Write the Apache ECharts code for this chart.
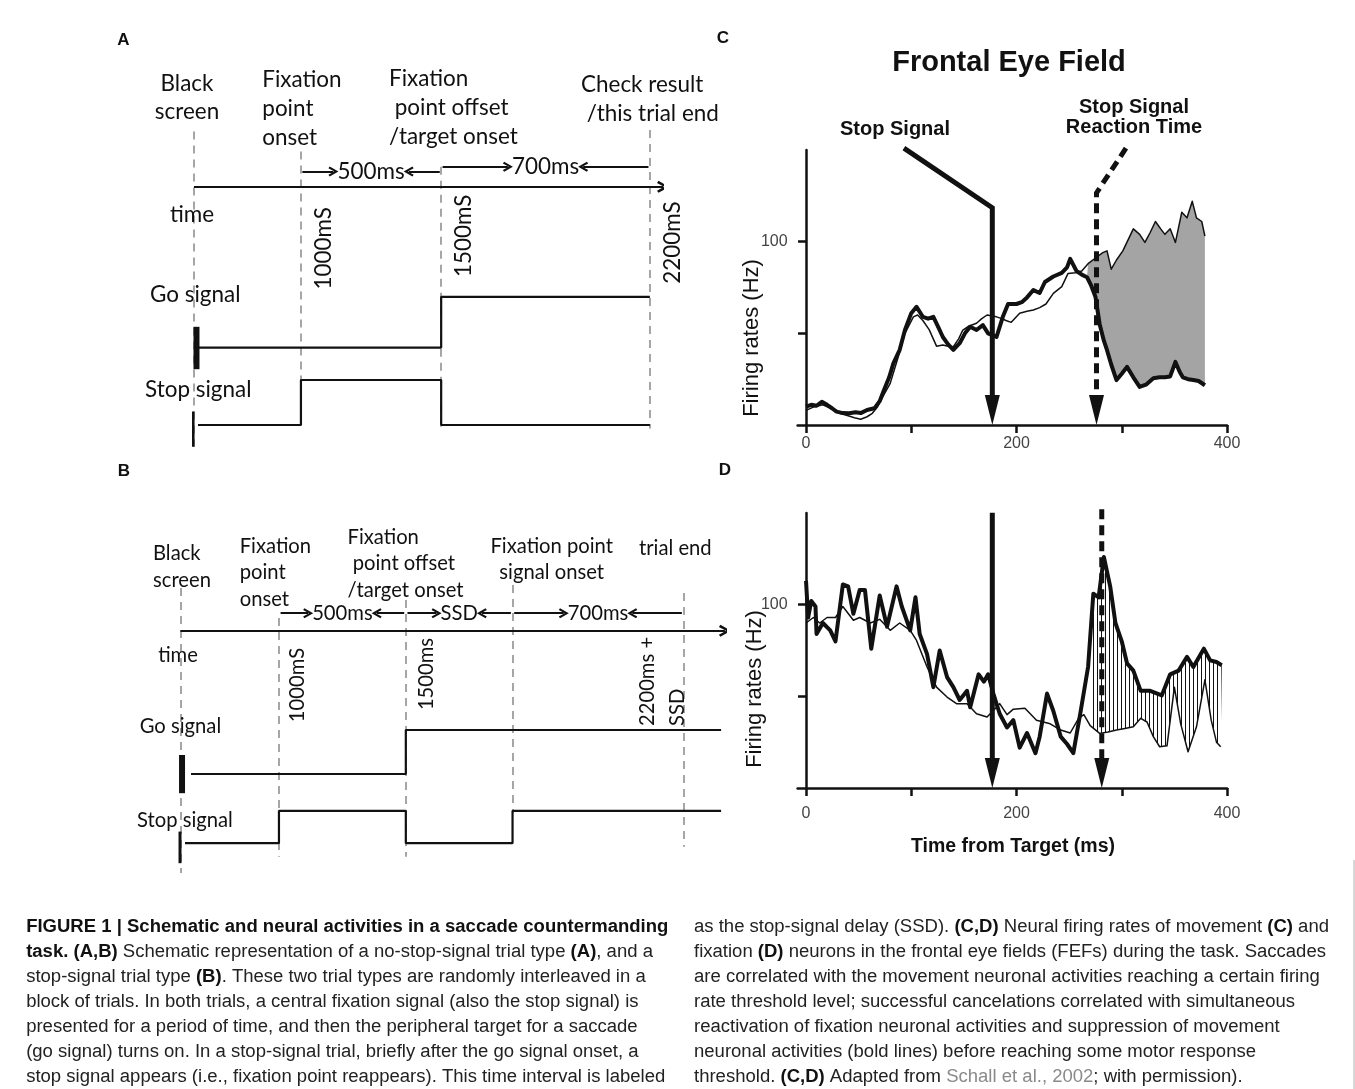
<!DOCTYPE html>
<html>
<head>
<meta charset="utf-8">
<title>Figure 1</title>
<script src="https://cdn.jsdelivr.net/npm/echarts@6/dist/echarts.min.js"></script>
<style>
  html, body { margin: 0; padding: 0; background: #fff; }
  #chart { width: 1355px; height: 1089px; }
</style>
</head>
<body>
<div id="chart"></div>
<script>
// ---------- C: movement neuron (ms from target, Hz) ----------
const cThinT = [0, 8, 16, 24, 32, 40, 46, 52, 58, 63, 68, 73, 80, 87, 94, 102, 106, 111, 117, 124, 130, 135, 140, 145, 149, 155, 162, 167, 172, 177, 181, 186, 190, 195, 203, 210, 216, 222, 228, 235, 243, 249, 256, 262, 268, 276, 282, 286, 290, 295, 301, 306, 311, 317, 322, 327, 332, 337, 341, 346, 351, 357, 362, 367, 371, 376, 379];
const cThinV = [8, 10, 11, 9, 6.4, 5, 4, 3.1, 4.5, 6.4, 10, 15.5, 22.7, 36, 50, 59, 60, 57, 52, 43, 43.6, 43, 42.7, 47, 51.8, 54, 55.5, 58, 60, 59.5, 59, 58, 57, 56, 61, 62, 62.7, 64, 66, 71.8, 75.5, 82.7, 83, 84, 88, 91.5, 94, 95, 85, 90, 95, 101, 107, 104, 99.6, 105, 111, 107, 104, 107, 99.6, 116, 113, 122, 113, 111, 103];
const cThickT = [0, 5, 10, 15, 20, 25, 29, 35, 41, 47, 52, 58, 65, 70, 74, 79, 83, 89, 94, 100, 105, 111, 116, 121, 126, 130, 135, 140, 146, 151, 156, 162, 168, 173, 177, 181, 187, 192, 200, 205, 210, 216, 222, 227, 235, 243, 248, 251, 257, 262, 267, 271, 275, 279, 283, 286, 290, 295, 300, 305, 311, 317, 323, 330, 336, 341, 346, 351, 355, 358, 363, 368, 373, 379];
const cThickV = [10, 11, 10.5, 12.7, 11, 9, 7.3, 6.5, 6.4, 7, 6.5, 8.2, 9.1, 13, 19, 26, 33.6, 41, 51.8, 61, 64.5, 59, 58, 59, 53, 48, 44, 41, 44.6, 50, 53.6, 51.8, 54.5, 50, 49, 48, 59, 66, 66, 67, 69.6, 73.6, 72, 78, 81, 83, 86, 90.6, 84, 82, 80.6, 76, 70, 55, 46, 40.8, 33, 24.5, 28, 31.7, 26, 20.8, 22, 25.5, 26, 26, 26.5, 34.4, 29, 26, 25, 24.5, 24, 21.7];

// ---------- D: fixation neuron ----------
const dThinT = [0, 7, 13, 20, 28, 35, 45, 51, 61, 70, 80, 89, 99, 105, 115, 124, 134, 143, 153, 162, 172, 181, 184, 191, 197, 208, 219, 232, 242, 251, 259, 264, 270, 279, 287, 295, 303, 311, 318, 324, 330, 336, 343, 350, 356, 363, 371, 379, 385, 390, 394];
const dThinV = [90, 93, 90, 93, 93, 99, 91.5, 93, 90, 92, 86, 90, 86, 80.5, 66, 55, 49.6, 46, 46, 40.5, 38.7, 44, 46, 40, 43, 43.5, 37, 35, 31.6, 30, 38, 40, 34, 29.8, 30.5, 31.6, 32.5, 33.4, 38, 36, 28, 22.5, 23, 55, 35, 19.8, 33.4, 59, 37, 25, 22.5];
const dThickT = [0, 2, 5, 9, 10, 16, 23, 28, 35, 40, 45, 51, 56, 62, 70, 77, 86, 91, 99, 104, 108, 115, 121, 127, 134, 140, 146, 153, 156, 164, 169, 173, 178, 184, 191, 197, 203, 210, 218, 222, 229, 235, 242, 248, 254, 261, 268, 273, 278, 283, 289, 294, 300, 305, 311, 318, 327, 338, 346, 354, 362, 368, 378, 384, 390, 395];
const dThickV = [113, 93, 102, 99, 84, 90, 86, 80, 111, 110, 95, 108, 108, 76, 105, 88, 110, 99, 86, 104, 84, 73, 55, 75, 60.5, 55, 48, 53, 44, 62, 58, 62, 51.5, 40.5, 33, 37, 22, 30, 19, 28, 51.5, 42, 28, 24, 19, 42, 66, 106, 104, 126, 110, 90, 80, 68, 64, 53, 53, 50.5, 62, 64, 71.5, 66, 76, 69.6, 68.7, 67];

const stopSignalMs = 177;
const ssrtMsC = 276;
const ssrtMsD = 281;
const xTickValues = [0, 100, 200, 300, 400];
const xLabelValues = [0, 200, 400];
const yTickValues = [50, 100];
const yLabelValues = [100];

// ---------- A / B schematics: event positions in % of the time arrow ----------
const eventPosA = [0, 22.8, 52.7, 97.2];
const goLevelA = [0, 0, 1];
const stopLevelA = [0, 1, 0];
const intervalLabelsA = ['500ms', '700ms'];
const timeLabelsA = ['1000mS', '1500mS', '2200mS'];

const eventPosB = [0, 18.1, 41.4, 61.0, 92.4];
const goLevelB = [0, 0, 1, 1];
const stopLevelB = [0, 1, 0, 1];
const intervalLabelsB = ['500ms', 'SSD', '700ms'];
const timeLabelsB = ['1000mS', '1500ms', '2200ms +\nSSD'];

// ---------- layout (grid units, not data) ----------
const layoutA = {
  timeRow: 68.3, goStart: 0.85, stopStart: 0.85, end: 97.2,
  goBase: 28.1, goAmp: 12.7, stopBase: 8.75, stopAmp: 11.25,
  goBarX: 0.53, goBar: [22.7, 33.3], stopBarX: -0.2, stopBar: [3.3, 12.1],
  dashTop: [82.1, 77.1, 73.3, 82.5], dashBottom: [3.3, 8.3, 8.3, 7.9],
  intervalFrom: 1, intervalRows: [72.1, 73.3]
};
const layoutB = {
  timeRow: 67.3, goStart: 1.95, stopStart: 0.85, end: 99.3,
  goBase: 31.5, goAmp: 11, stopBase: 14.2, stopAmp: 8.1,
  goBarX: 0.3, goBar: [26.7, 36.25], stopBarX: -0.07, stopBar: [9.2, 17.1],
  dashTop: [78, 70.5, 75, 78.75, 76.75], dashBottom: [6.75, 10.8, 10.8, 21.75, 13.3],
  intervalFrom: 1, intervalRows: [71.7, 71.7, 71.7]
};
const arrowsC = [
  { pts: [[93, 151], [stopSignalMs, 118.5], [stopSignalMs, 0]], dashed: false },
  { pts: [[304, 151], [ssrtMsC, 126.6], [ssrtMsC, 0]], dashed: true }
];
const arrowsD = [
  { pts: [[stopSignalMs, 150.2], [stopSignalMs, 0]], dashed: false },
  { pts: [[ssrtMsD, 152], [ssrtMsD, 0]], dashed: true }
];

const captionLeft = [
  '**FIGURE 1 | Schematic and neural activities in a saccade countermanding**',
  '**task. (A,B)** Schematic representation of a no-stop-signal trial type **(A)**, and a',
  'stop-signal trial type **(B)**. These two trial types are randomly interleaved in a',
  'block of trials. In both trials, a central fixation signal (also the stop signal) is',
  'presented for a period of time, and then the peripheral target for a saccade',
  '(go signal) turns on. In a stop-signal trial, briefly after the go signal onset, a',
  'stop signal appears (i.e., fixation point reappears). This time interval is labeled'
];
const captionRight = [
  'as the stop-signal delay (SSD). **(C,D)** Neural firing rates of movement **(C)** and',
  'fixation **(D)** neurons in the frontal eye fields (FEFs) during the task. Saccades',
  'are correlated with the movement neuronal activities reaching a certain firing',
  'rate threshold level; successful cancelations correlated with simultaneous',
  'reactivation of fixation neuronal activities and suppression of movement',
  'neuronal activities (bold lines) before reaching some motor response',
  'threshold. **(C,D)** Adapted from ##Schall et al., 2002##; with permission).'
];

const SANS = '"Liberation Sans", Arial, sans-serif';
const SCHEM = 'Lato, "Open Sans", sans-serif';
const INK = '#111';

const mctx = document.createElement('canvas').getContext('2d');
function textW(str, size, family, weight) {
  mctx.font = (weight || 'normal') + ' ' + size + 'px ' + family;
  return mctx.measureText(str).width;
}
const fsA = 24 * 122.5 / textW('Check result', 24, SCHEM);
const fsB = 24 * 122.6 / textW('Fixation point', 24, SCHEM);

const zip = (t, v) => t.map((x, i) => [x, v[i]]);

function stepPoints(pos, levels, start, end, base, amp) {
  const pts = [[start, base + levels[0] * amp]];
  for (let i = 1; i < levels.length; i++) {
    if (levels[i] !== levels[i - 1]) {
      pts.push([pos[i], base + levels[i - 1] * amp]);
      pts.push([pos[i], base + levels[i] * amp]);
    }
  }
  pts.push([end, base + levels[levels.length - 1] * amp]);
  return pts;
}

const CHEVRON = 'path://M0,14 L10,0 L20,14 L16.5,16 L10,6.5 L3.5,16 Z';

function intervalArrows(pos, labels, L, size, ppu) {
  const out = [];
  labels.forEach((lab, k) => {
    const i = L.intervalFrom + k;
    const c = (pos[i] + pos[i + 1]) / 2;
    const w = Math.max.apply(null, lab.split('\n').map(s => textW(s, size, SCHEM)));
    const g = (w / 2 + 4) / ppu;
    const row = L.intervalRows[k];
    out.push({ coords: [[pos[i] + 0.3, row], [c - g, row]] });
    out.push({ coords: [[pos[i + 1] - 0.3, row], [c + g, row]] });
  });
  return out;
}

function schematicSeries(gi, pos, go, stop, L, labels, size, ppu) {
  const ax = { xAxisIndex: gi, yAxisIndex: gi };
  const line = (data, width) => Object.assign({
    type: 'line', data, symbol: 'none', silent: true, clip: false, z: 3,
    lineStyle: { width, color: INK, cap: 'butt' }
  }, ax);
  return [
    Object.assign({
      type: 'lines', coordinateSystem: 'cartesian2d', silent: true, z: 1, symbol: 'none',
      data: pos.map((p, i) => ({ coords: [[p, L.dashTop[i]], [p, L.dashBottom[i]]] })),
      lineStyle: { color: '#a6a6a6', width: 2, type: [8, 6], opacity: 1 }
    }, ax),
    line(stepPoints(pos, go, L.goStart, L.end, L.goBase, L.goAmp), 2.2),
    line(stepPoints(pos, stop, L.stopStart, L.end, L.stopBase, L.stopAmp), 2.2),
    line([[L.goBarX, L.goBar[0]], [L.goBarX, L.goBar[1]]], 6),
    line([[L.stopBarX, L.stopBar[0]], [L.stopBarX, L.stopBar[1]]], 3),
    Object.assign({
      type: 'lines', coordinateSystem: 'cartesian2d', silent: true, z: 3,
      symbol: ['none', CHEVRON], symbolSize: 12,
      data: [{ coords: [[0, L.timeRow], [100, L.timeRow]] }],
      lineStyle: { color: INK, width: 2, opacity: 1 }
    }, ax),
    Object.assign({
      type: 'lines', coordinateSystem: 'cartesian2d', silent: true, z: 3,
      symbol: ['none', CHEVRON], symbolSize: 10,
      data: intervalArrows(pos, labels, L, size, ppu),
      lineStyle: { color: INK, width: 2, opacity: 1 }
    }, ax)
  ];
}

function firingAxes(gi, labelMargin) {
  const ls = { color: INK, width: 2.5 };
  return {
    x: {
      gridIndex: gi, type: 'value', min: -8, max: 400,
      axisLine: { show: true, onZero: false, lineStyle: ls },
      axisTick: { show: true, customValues: xTickValues, length: 8, lineStyle: ls },
      axisLabel: { customValues: xLabelValues, margin: labelMargin, fontSize: 16, color: '#444', fontFamily: SANS },
      splitLine: { show: false }
    },
    y: {
      gridIndex: gi, type: 'value', min: 0, max: 150,
      axisLine: { show: true, onZero: true, lineStyle: ls },
      axisTick: { show: true, customValues: yTickValues, length: 8, lineStyle: ls },
      axisLabel: { customValues: yLabelValues, margin: 10, fontSize: 16, color: '#444', fontFamily: SANS },
      splitLine: { show: false }
    }
  };
}

function drawArrow(a, api) {
  const pts = a.pts.map(p => api.coord(p));
  const tip = pts[pts.length - 1];
  const headH = 30, headW = 15;
  const shaft = pts.slice(0, -1).concat([[tip[0], tip[1] - headH * 0.6]]);
  return {
    type: 'group',
    children: [
      { type: 'polyline', shape: { points: shaft },
        style: { stroke: INK, lineWidth: 5, fill: null, lineDash: a.dashed ? [10, 6] : null } },
      { type: 'polygon', shape: { points: [[tip[0] - headW / 2, tip[1] - headH], [tip[0] + headW / 2, tip[1] - headH], [tip[0], tip[1]]] },
        style: { fill: INK } }
    ]
  };
}

function bandSeries(gi, topT, topV, botT, botV, t0, t1, fill) {
  const inRange = p => p[0] >= t0 && p[0] <= t1;
  const poly = zip(topT, topV).filter(inRange).concat(zip(botT, botV).filter(inRange).reverse());
  return {
    type: 'custom', coordinateSystem: 'cartesian2d', xAxisIndex: gi, yAxisIndex: gi, silent: true, z: 1,
    data: [[t0, 0]],
    renderItem: (params, api) => ({ type: 'polygon', shape: { points: poly.map(p => api.coord(p)) }, style: { fill } })
  };
}

function firingSeries(gi, thinT, thinV, thickT, thickV, arrows) {
  return [
    { type: 'line', xAxisIndex: gi, yAxisIndex: gi, data: zip(thinT, thinV), symbol: 'none', silent: true, z: 2,
      lineStyle: { color: INK, width: 1.5, join: 'round' } },
    { type: 'line', xAxisIndex: gi, yAxisIndex: gi, data: zip(thickT, thickV), symbol: 'none', silent: true, z: 2,
      lineStyle: { color: INK, width: 4, join: 'round' } },
    { type: 'custom', coordinateSystem: 'cartesian2d', xAxisIndex: gi, yAxisIndex: gi, silent: true, z: 4, clip: false,
      data: arrows.map((a, i) => [a.pts[a.pts.length - 1][0], 0, i]),
      renderItem: (params, api) => drawArrow(arrows[params.dataIndex], api) }
  ];
}

// vertical hatch for panel D
const hatch = document.createElement('canvas');
hatch.width = 4; hatch.height = 4;
const hctx = hatch.getContext('2d');
hctx.fillStyle = '#111';
hctx.fillRect(1, 0, 1, 4);

const gridA = { left: 194, top: 60, width: 469, height: 400 };
const gridB = { left: 180.4, top: 500, width: 544.5, height: 400 };
const axC = firingAxes(2, 11);
const axD = firingAxes(3, 18);
const hiddenX = gi => ({ gridIndex: gi, type: 'value', min: 0, max: 100, show: false });
const hiddenY = gi => ({ gridIndex: gi, type: 'value', min: 0, max: 100, show: false });

const chart = echarts.init(document.getElementById('chart'));
chart.setOption({
  animation: false,
  backgroundColor: '#fff',
  grid: [
    gridA, gridB,
    { left: 797.6, top: 150, width: 429.4, height: 275 },
    { left: 797.6, top: 513, width: 429.4, height: 275 }
  ],
  xAxis: [hiddenX(0), hiddenX(1), axC.x, axD.x],
  yAxis: [hiddenY(0), hiddenY(1), axC.y, axD.y],
  series: [].concat(
    schematicSeries(0, eventPosA, goLevelA, stopLevelA, layoutA, intervalLabelsA, fsA, gridA.width / 100),
    schematicSeries(1, eventPosB, goLevelB, stopLevelB, layoutB, intervalLabelsB, fsB, gridB.width / 100),
    [bandSeries(2, cThinT, cThinV, cThickT, cThickV, 266, 380, '#a4a4a4')],
    firingSeries(2, cThinT, cThinV, cThickT, cThickV, arrowsC),
    [bandSeries(3, dThickT, dThickV, dThinT, dThinV, 270, 395, { image: hatch, repeat: 'repeat' })],
    firingSeries(3, dThinT, dThinV, dThickT, dThickV, arrowsD)
  )
});

// ---------- text ----------
const toPx = (gi, x, y) => chart.convertToPixel({ xAxisIndex: gi, yAxisIndex: gi }, [x, y]);

function txt(x, y, text, o) {
  o = o || {};
  return {
    type: 'text', x, y, rotation: o.rot || 0, scaleX: o.sx || 1, silent: true, z: 10,
    style: {
      text, fill: o.color || INK, fontSize: o.size, fontFamily: o.font || SANS,
      fontWeight: o.weight || 'normal', align: o.align || 'left', verticalAlign: o.valign || 'middle',
      lineHeight: o.lh, rich: o.rich
    }
  };
}

const els = [];
// panel letters
[['A', 123.4, 40], ['B', 123.8, 471.7], ['C', 723, 38], ['D', 725, 470]].forEach(l =>
  els.push(txt(l[1], l[2], l[0], { size: 17, weight: 'bold', align: 'center' })));

// panel A
const sA = { size: fsA, font: SCHEM };
els.push(txt(187, 97.5, 'Black\nscreen', Object.assign({ align: 'center', lh: 28.4 }, sA)));
els.push(txt(262.3, 109.2, 'Fixation\npoint\nonset', Object.assign({ lh: 29 }, sA)));
els.push(txt(389, 107.5, 'Fixation\n point offset\n/target onset', Object.assign({ lh: 29.2 }, sA)));
els.push(txt(581, 99.2, 'Check result\n /this trial end', Object.assign({ lh: 28.3 }, sA)));
els.push(txt(192, 215, 'time', Object.assign({ align: 'center' }, sA)));
els.push(txt(150, 295, 'Go signal', sA));
els.push(txt(145, 390, 'Stop signal', sA));
const timeYA = [248.3, 235.8, 242.5];
timeLabelsA.forEach((t, k) => {
  const p = toPx(0, eventPosA[k + 1], 0);
  els.push(txt(p[0] + 22.5, timeYA[k], t, Object.assign({ rot: Math.PI / 2, align: 'center' }, sA)));
});
intervalLabelsA.forEach((t, k) => {
  const i = layoutA.intervalFrom + k;
  const p = toPx(0, (eventPosA[i] + eventPosA[i + 1]) / 2, layoutA.intervalRows[k]);
  els.push(txt(p[0], p[1], t, Object.assign({ align: 'center' }, sA)));
});

// panel B
const sB = { size: fsB, font: SCHEM };
els.push(txt(153, 567, 'Black\nscreen', Object.assign({ lh: 27.4 }, sB)));
els.push(txt(239.7, 572.7, 'Fixation\npoint\nonset', Object.assign({ lh: 26.7 }, sB)));
els.push(txt(347.5, 563.7, 'Fixation\n point offset\n/target onset', Object.assign({ lh: 26.4 }, sB)));
els.push(txt(551.7, 559.7, 'Fixation point\nsignal onset', Object.assign({ align: 'center', lh: 26 }, sB)));
els.push(txt(639, 548.3, 'trial end', sB));
els.push(txt(178, 655, 'time', Object.assign({ align: 'center' }, sB)));
els.push(txt(139.7, 726.7, 'Go signal', sB));
els.push(txt(137, 820.7, 'Stop signal', sB));
const timeEventB = [1, 2, 4];
const timeOffB = [[18.6, 685, 'center'], [20.5, 674, 'center'], [-21.1, 726, 'left']];
timeLabelsB.forEach((t, k) => {
  const p = toPx(1, eventPosB[timeEventB[k]], 0);
  const o = timeOffB[k];
  els.push(txt(p[0] + o[0], o[1], t, Object.assign({ rot: Math.PI / 2, align: o[2], lh: 30 }, sB)));
});
intervalLabelsB.forEach((t, k) => {
  const i = layoutB.intervalFrom + k;
  const p = toPx(1, (eventPosB[i] + eventPosB[i + 1]) / 2, layoutB.intervalRows[k]);
  els.push(txt(p[0], p[1], t, Object.assign({ align: 'center' }, sB)));
});

// panels C / D
els.push(txt(1009, 63, 'Frontal Eye Field', { size: 29, weight: 'bold', align: 'center' }));
els.push(txt(895, 129, 'Stop Signal', { size: 20, weight: 'bold', align: 'center' }));
els.push(txt(1134, 117, 'Stop Signal\nReaction Time', { size: 20, weight: 'bold', align: 'center', lh: 20 }));
els.push(txt(752, 338, 'Firing rates (Hz)', { size: 22, align: 'center', rot: Math.PI / 2 }));
els.push(txt(755, 689, 'Firing rates (Hz)', { size: 22, align: 'center', rot: Math.PI / 2 }));
els.push(txt(1013, 847, 'Time from Target (ms)', { size: 19.5, weight: 'bold', align: 'center' }));

// caption
const capSize = 18;
function segs(line) {
  return line.split(/(\*\*.*?\*\*|##.*?##)/).filter(s => s).map(s => ({
    kind: s.startsWith('**') ? 'b' : s.startsWith('##') ? 'g' : 'n',
    text: s.replace(/^\*\*|\*\*$|^##|##$/g, '')
  }));
}
function lineWidth(line) {
  return segs(line).reduce((w, s) => w + textW(s.text, capSize, SANS, s.kind === 'b' ? 'bold' : 'normal'), 0);
}
function toRich(line) {
  return segs(line).map(s => s.kind === 'n' ? s.text : '{' + s.kind + '|' + s.text + '}').join('');
}
const capScale = 635 / lineWidth(captionRight[0]);
const capRich = {
  b: { fontWeight: 'bold', fontSize: capSize, fontFamily: SANS, fill: INK },
  g: { fontSize: capSize, fontFamily: SANS, fill: '#8a8a8a' }
};
const capLeftX = 127 - capScale * textW('FIGURE 1 | ', capSize, SANS, 'bold');
const capRows = i => 927 + i * 25;
captionLeft.forEach((l, i) => els.push(txt(capLeftX, capRows(i), toRich(l), { size: capSize, sx: capScale, rich: capRich, color: '#222' })));
captionRight.forEach((l, i) => els.push(txt(694, capRows(i), toRich(l), { size: capSize, sx: capScale, rich: capRich, color: '#222' })));
els.push({ type: 'line', silent: true, shape: { x1: 1354, y1: 860, x2: 1354, y2: 1089 }, style: { stroke: '#b0b0b0', lineWidth: 1 } });

chart.setOption({ graphic: { elements: els } });
</script>
</body>
</html>
